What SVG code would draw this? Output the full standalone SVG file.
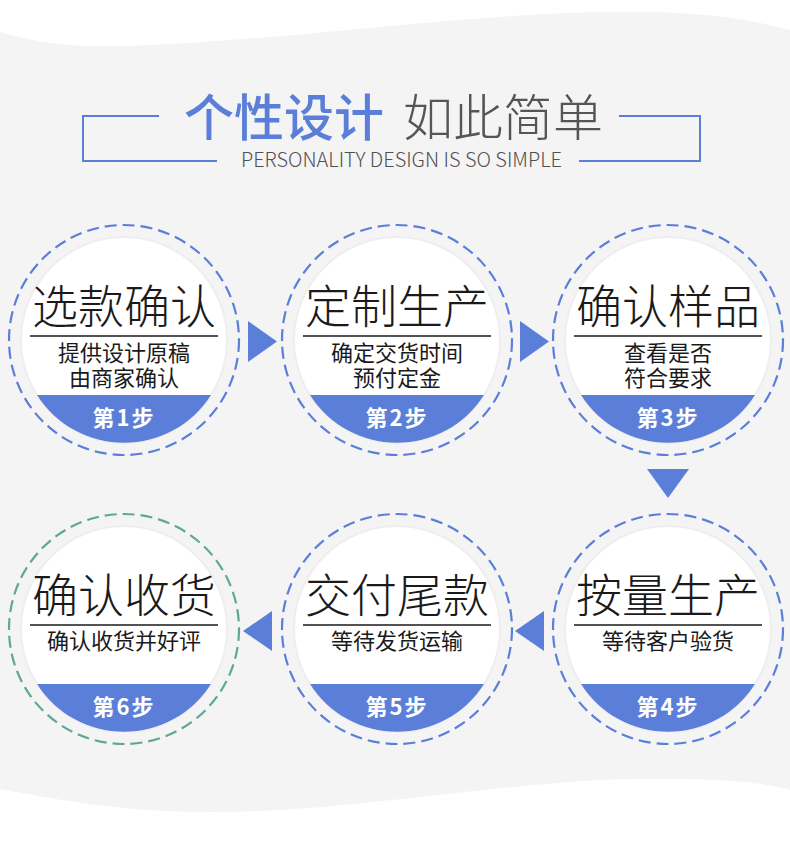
<svg xmlns="http://www.w3.org/2000/svg" width="790" height="844" viewBox="0 0 790 844">
<style>
.disc{fill:#ffffff;stroke:#eeeeef;stroke-width:2}
.seg{fill:#5b7fd9}
.dash{fill:none;stroke:#5b7fd9;stroke-width:2.2;stroke-dasharray:12 6}
.dash.g{stroke:#5fa796}
.t{font-family:"Noto Sans CJK SC","Noto Sans",sans-serif;font-size:46px;font-weight:300;fill:#1a1a1a;text-anchor:middle}
.s{font-family:"Noto Sans CJK SC","Noto Sans",sans-serif;font-size:22px;font-weight:400;fill:#1a1a1a;text-anchor:middle}
.k{font-family:"Noto Sans CJK SC","Noto Sans",sans-serif;font-size:22px;font-weight:700;fill:#ffffff;text-anchor:middle;letter-spacing:2px}
.rule{stroke:#1a1a1a;stroke-width:1.3}
.arrow{fill:#5b7fd9}
.bracket{fill:none;stroke:#5b7fd9;stroke-width:2}
</style>
<rect width="790" height="844" fill="#ffffff"/>
<path d="M0,32 C40,44 80,48 130,46 C300,40 500,8 655,12 C720,14 760,22 790,30 L790,790 C760,782 720,778 630,779 C500,782 350,812 212,812 C120,812 60,800 0,789 Z" fill="#f4f4f5"/>
<g id="title">
<text x="184" y="136" font-family="'Noto Sans CJK SC','Noto Sans',sans-serif" font-size="50" font-weight="500" fill="#5b7fd9">个性设计</text>
<text x="403" y="136" font-family="'Noto Sans CJK SC','Noto Sans',sans-serif" font-size="50" font-weight="300" fill="#555555">如此简单</text>
<text x="241" y="167" font-family="'Noto Sans CJK SC','Noto Sans',sans-serif" font-size="20" font-weight="300" fill="#505050" textLength="321" lengthAdjust="spacingAndGlyphs">PERSONALITY DESIGN IS SO SIMPLE</text>
<path class="bracket" d="M159,116 H83 V161 H217"/>
<path class="bracket" d="M619,116 H700 V161 H579"/>
</g>
<g id="connectors">
<polygon class="arrow" points="248,321 248,362 277,341.5"/>
<polygon class="arrow" points="520,321 520,362 549,341.5"/>
<polygon class="arrow" points="647,469 689,469 668,498"/>
<polygon class="arrow" points="544,611 544,651 515,631"/>
<polygon class="arrow" points="272,611 272,651 243,631"/>
</g>
<g id="step1" transform="translate(124,340)">
<circle class="disc" r="103"/>
<path class="seg" d="M-87,55 H87 A103 103 0 0 1 -87,55 Z"/>
<circle class="dash" r="115"/>
<text class="t" y="-17">选款确认</text>
<line class="rule" x1="-94" x2="94" y1="-4" y2="-4"/>
<text class="s" y="21"><tspan x="0">提供设计原稿</tspan><tspan x="0" dy="25">由商家确认</tspan></text>
<text class="k" y="86">第1步</text>
</g>
<g id="step2" transform="translate(397,340)">
<circle class="disc" r="103"/>
<path class="seg" d="M-87,55 H87 A103 103 0 0 1 -87,55 Z"/>
<circle class="dash" r="115"/>
<text class="t" y="-17">定制生产</text>
<line class="rule" x1="-94" x2="94" y1="-4" y2="-4"/>
<text class="s" y="21"><tspan x="0">确定交货时间</tspan><tspan x="0" dy="25">预付定金</tspan></text>
<text class="k" y="86">第2步</text>
</g>
<g id="step3" transform="translate(668,340)">
<circle class="disc" r="103"/>
<path class="seg" d="M-87,55 H87 A103 103 0 0 1 -87,55 Z"/>
<circle class="dash" r="115"/>
<text class="t" y="-17">确认样品</text>
<line class="rule" x1="-94" x2="94" y1="-4" y2="-4"/>
<text class="s" y="21"><tspan x="0">查看是否</tspan><tspan x="0" dy="25">符合要求</tspan></text>
<text class="k" y="86">第3步</text>
</g>
<g id="step4" transform="translate(668,629)">
<circle class="disc" r="103"/>
<path class="seg" d="M-87,55 H87 A103 103 0 0 1 -87,55 Z"/>
<circle class="dash" r="115"/>
<text class="t" y="-17">按量生产</text>
<line class="rule" x1="-94" x2="94" y1="-4" y2="-4"/>
<text class="s" y="20">等待客户验货</text>
<text class="k" y="86">第4步</text>
</g>
<g id="step5" transform="translate(397,629)">
<circle class="disc" r="103"/>
<path class="seg" d="M-87,55 H87 A103 103 0 0 1 -87,55 Z"/>
<circle class="dash" r="115"/>
<text class="t" y="-17">交付尾款</text>
<line class="rule" x1="-94" x2="94" y1="-4" y2="-4"/>
<text class="s" y="20">等待发货运输</text>
<text class="k" y="86">第5步</text>
</g>
<g id="step6" transform="translate(124,629)">
<circle class="disc" r="103"/>
<path class="seg" d="M-87,55 H87 A103 103 0 0 1 -87,55 Z"/>
<circle class="dash g" r="115"/>
<text class="t" y="-17">确认收货</text>
<line class="rule" x1="-94" x2="94" y1="-4" y2="-4"/>
<text class="s" y="20">确认收货并好评</text>
<text class="k" y="86">第6步</text>
</g>
</svg>
